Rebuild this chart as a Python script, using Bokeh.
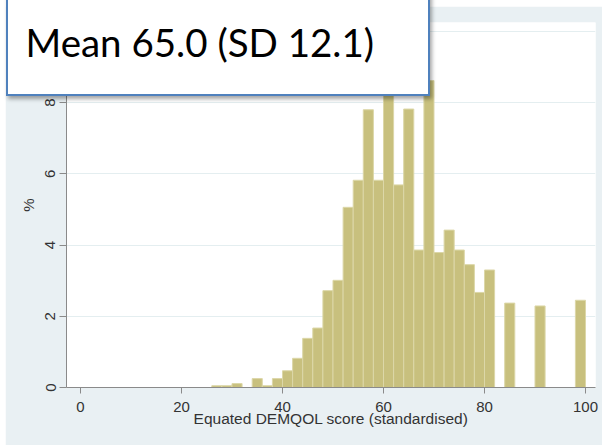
from bokeh.plotting import figure
from bokeh.models import Range1d, Spacer, FixedTicker, Div
from bokeh.layouts import column, row
from bokeh.embed import file_html
from bokeh.resources import INLINE

# Histogram of equated DEMQOL scores: left edge of each 2-point bin and its percentage
bin_start = [26, 28, 30, 34, 36, 38, 40, 42, 44, 46, 48, 50, 52, 54, 56, 58, 60,
             62, 64, 66, 68, 70, 72, 74, 76, 78, 80, 84, 90, 98]
percent = [0.05, 0.05, 0.11, 0.25, 0.05, 0.25, 0.47, 0.82, 1.38, 1.67, 2.72, 3.01,
           5.06, 5.82, 7.80, 5.82, 10.10, 5.69, 7.82, 3.86, 8.62, 3.79, 4.42, 3.86,
           3.45, 2.67, 3.30, 2.37, 2.29, 2.45]
bin_width = 2

x_ticks = [0, 20, 40, 60, 80, 100]
y_ticks = [0, 2, 4, 6, 8, 10]

x_title = "Equated DEMQOL score (standardised)"
y_title = "%"
summary = "Mean 65.0 (SD 12.1)"

panel_bg = "#e9f0f3"
bar_fill = "#c8c07e"
text_col = "#333333"

p = figure(width=597, height=439,
           x_range=Range1d(-2.77, 101.98), y_range=Range1d(0, 10.25),
           output_backend="svg", toolbar_location=None,
           min_border_left=61, min_border_right=7,
           min_border_top=16, min_border_bottom=58,
           background_fill_color="white", border_fill_color=panel_bg,
           outline_line_color=None)

p.quad(left=bin_start, right=[b + bin_width for b in bin_start],
       bottom=0, top=percent,
       fill_color=bar_fill, line_color="#dcd7a8", line_width=1)

# grid
p.xgrid.visible = False
p.ygrid.ticker = FixedTicker(ticks=y_ticks)
p.ygrid.grid_line_color = "#e4eef0"
p.ygrid.grid_line_width = 1

# axes
for ax in (p.xaxis[0], p.yaxis[0]):
    ax.axis_line_color = "#8a8a8a"
    ax.major_tick_line_color = "#8a8a8a"
    ax.minor_tick_line_color = None
    ax.major_tick_in = 0
    ax.major_label_text_font = "Liberation Sans"
    ax.major_label_text_font_size = "15px"
    ax.major_label_text_color = text_col
    ax.axis_label_text_font = "Liberation Sans"
    ax.axis_label_text_font_style = "normal"
    ax.axis_label_text_color = text_col

p.xaxis.ticker = FixedTicker(ticks=x_ticks)
p.xaxis.major_tick_out = 6
p.xaxis.major_label_standoff = 8
p.xaxis.axis_label = x_title
p.xaxis.axis_label_text_font_size = "15.5px"
p.xaxis.axis_label_standoff = -5

p.yaxis.ticker = FixedTicker(ticks=y_ticks)
p.yaxis.major_tick_out = 7
p.yaxis.major_label_standoff = 4
p.yaxis.major_label_orientation = "vertical"
p.yaxis.axis_label = y_title
p.yaxis.axis_label_text_font_size = "15px"
p.yaxis.axis_label_standoff = 6

# summary call-out box laid over the top-left of the chart
callout = Div(
    text=summary, width=424, height=106, margin=0,
    styles={
        "position": "absolute", "left": "6px", "top": "-10px", "z-index": "10",
        "box-sizing": "border-box", "background-color": "white",
        "border": "2px solid #4f81bd",
        "box-shadow": "2px 3px 4px rgba(0, 0, 0, 0.35)",
        "font-family": "Lato", "font-size": "38.5px",
        "line-height": "1.2", "color": "black",
        "padding-left": "17.5px", "padding-top": "27px",
    },
)

layout = column(Spacer(height=6), row(Spacer(width=5), p), callout)
open("out.html", "w").write(file_html(layout, INLINE))
